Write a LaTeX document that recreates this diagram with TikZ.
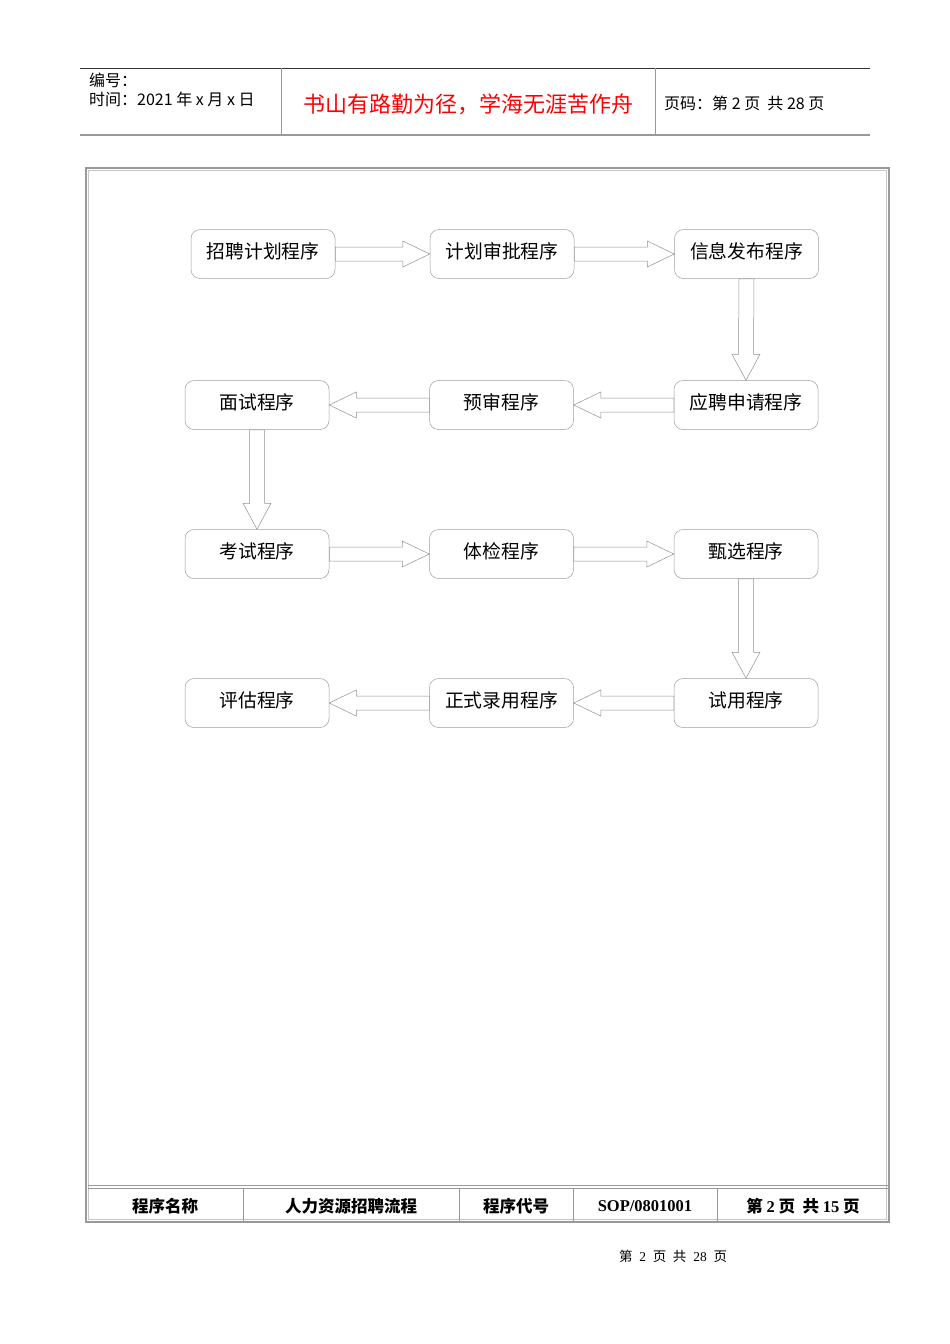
\documentclass[tikz,border=0pt]{standalone}
\usepackage{fontspec}
\setmainfont{Liberation Sans}
\newfontfamily\cjk{Noto Sans CJK SC}
\newfontfamily\tnr{Liberation Serif}
\usetikzlibrary{positioning,calc}

\tikzset{
  stepbox/.style={draw=gray!75, line width=0.5pt, rounded corners=9pt,
    minimum width=144pt, minimum height=49pt, inner sep=0pt,
    text height=14pt, text depth=5.5pt,
    font=\cjk\fontsize{18.8}{18.8}\selectfont},
  arr/.style={draw=gray!85, line width=0.5pt, fill=white},
  headtxt/.style={anchor=west, inner sep=0pt, font=\cjk\fontsize{16}{16}\selectfont},
  foottxt/.style={inner sep=0pt, font=\tnr\cjk\bfseries\fontsize{16.5}{16.5}\selectfont},
}

% block arrows between boxes
\newcommand{\rightarr}[2]{%
  \draw[arr] ($(#1.east)+(0,-7)$) -- ($(#2.west)+(-27,-7)$) -- ($(#2.west)+(-27,-13)$)
    -- (#2.west) -- ($(#2.west)+(-27,13)$) -- ($(#2.west)+(-27,7)$) -- ($(#1.east)+(0,7)$) -- cycle;}
\newcommand{\leftarr}[2]{%
  \draw[arr] ($(#1.west)+(0,-7)$) -- ($(#2.east)+(27,-7)$) -- ($(#2.east)+(27,-13)$)
    -- (#2.east) -- ($(#2.east)+(27,13)$) -- ($(#2.east)+(27,7)$) -- ($(#1.west)+(0,7)$) -- cycle;}
\newcommand{\downarr}[2]{%
  \draw[arr] ($(#1.south)+(-7.5,0)$) -- ($(#2.north)+(-7.5,-26)$) -- ($(#2.north)+(-14,-26)$)
    -- (#2.north) -- ($(#2.north)+(14,-26)$) -- ($(#2.north)+(7.5,-26)$) -- ($(#1.south)+(7.5,0)$) -- cycle;}

\begin{document}
\begin{tikzpicture}[x=1pt, y=-1pt, node distance=100pt]
\useasboundingbox[fill=white] (0,0) rectangle (950,1344);

% page header
\draw[black!80, line width=0.7pt] (80,68) -- (870,68);
\draw[gray!80, line width=1.6pt] (80,135) -- (870,135);
\draw[gray!80, line width=0.8pt] (281,68) -- (281,135);
\draw[gray!80, line width=0.8pt] (655,68) -- (655,135);
\node[headtxt] (num) at (89,80) {编号：};
\node[headtxt] (date) at (89,99) {时间：2021 年 x 月 x 日};
\node[inner sep=0pt, text=red, font=\cjk\fontsize{22}{22}\selectfont] (motto) at (468,104) {书山有路勤为径，学海无涯苦作舟};
\node[headtxt] (pageno) at (664,103) {页码：第 2 页\ \ 共 28 页};

% outer frame
\draw[gray!80, line width=2pt] (86,168) rectangle (889,1222);
\draw[gray!45, line width=0.8pt] (88.5,170.5) rectangle (886.5,1219.5);

% flow
\node[stepbox] (plan) at (263,254) {招聘计划程序};
\node[stepbox] (approve) at (502,254) {计划审批程序};
\node[stepbox] (publish) [right=of approve] {信息发布程序};

\node[stepbox] (interview) at (257,405) {面试程序};
\node[stepbox] (prescreen) [right=of interview] {预审程序};
\node[stepbox] (apply) [right=of prescreen] {应聘申请程序};

\node[stepbox] (exam) at (257,554) {考试程序};
\node[stepbox] (medical) [right=of exam] {体检程序};
\node[stepbox] (select) [right=of medical] {甄选程序};

\node[stepbox] (assess) at (257,703) {评估程序};
\node[stepbox] (hire) [right=of assess] {正式录用程序};
\node[stepbox] (trial) [right=of hire] {试用程序};

\rightarr{plan}{approve}
\rightarr{approve}{publish}
\downarr{publish}{apply}
\leftarr{apply}{prescreen}
\leftarr{prescreen}{interview}
\downarr{interview}{exam}
\rightarr{exam}{medical}
\rightarr{medical}{select}
\downarr{select}{trial}
\leftarr{trial}{hire}
\leftarr{hire}{assess}

% footer table
\draw[gray!80, line width=1pt] (88,1185) -- (888,1185);
\draw[gray!80, line width=1pt] (88,1188) -- (888,1188);
\foreach \xx in {243,459,573,717}
  \draw[gray!80, line width=0.8pt] (\xx,1188) -- (\xx,1222);
\node[foottxt] (namelbl) at (165,1206) {程序名称};
\node[foottxt] (name) at (351,1206) {人力资源招聘流程};
\node[foottxt] (codelbl) at (516,1206) {程序代号};
\node[inner sep=0pt, font=\tnr\bfseries\fontsize{16.5}{16.5}\selectfont] (code) at (645,1206) {SOP/0801001};
\node[foottxt] (pages) at (803,1206) {第 {\tnr 2} 页\ \ 共 {\tnr 15} 页};

\node[inner sep=0pt, font=\tnr\fontsize{13.5}{13.5}\selectfont] (pagefoot) at (673,1256) {{\cjk 第}\ \ 2\ \ {\cjk 页}\ \ {\cjk 共}\ \ 28\ \ {\cjk 页}};
\end{tikzpicture}
\end{document}
